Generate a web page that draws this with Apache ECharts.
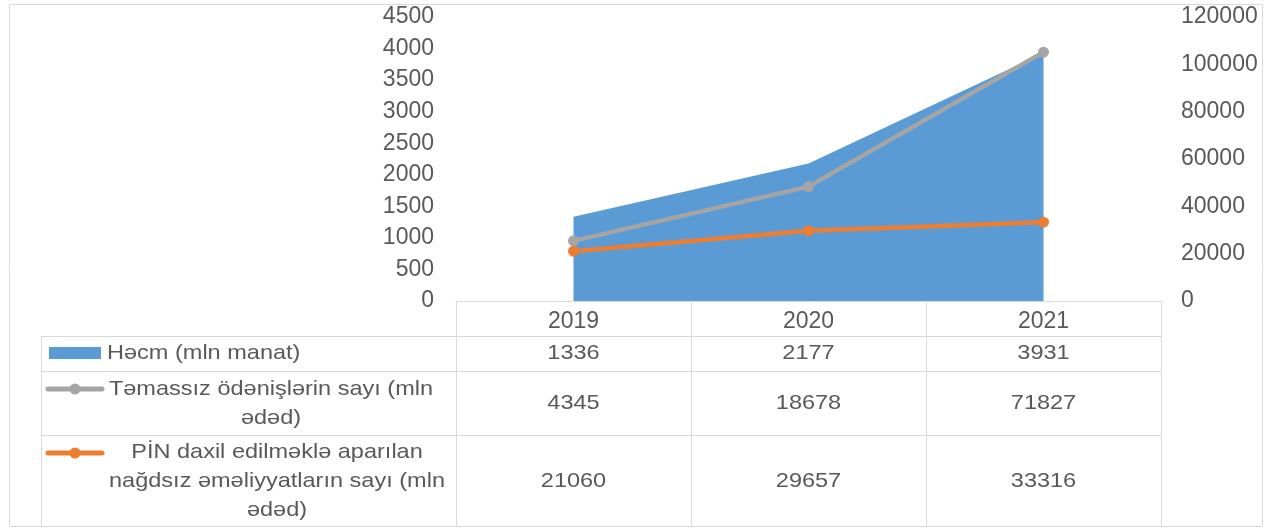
<!DOCTYPE html>
<html>
<head>
<meta charset="utf-8">
<script src="https://cdn.jsdelivr.net/npm/echarts@6/dist/echarts.min.js"></script>
<style>
  html, body { margin: 0; padding: 0; background: #fff; }
  #chart { width: 1269px; height: 528px; }
</style>
</head>
<body>
<div id="chart"></div>
<script>
// data
var years = ["2019", "2020", "2021"];
var volume = [1336, 2177, 3931];          // Həcm (mln manat)
var contactless = [4345, 18678, 71827];   // Təmassız ödənişlərin sayı
var pinOps = [21060, 29657, 33316];       // PİN daxil edilməklə ...
var rowNames = [
  "Həcm (mln manat)",
  "Təmassız ödənişlərin sayı (mln\nədəd)",
  "PİN daxil edilməklə aparılan\nnağdsız əməliyyatların sayı (mln\nədəd)"
];

var txt = "#595959";
var line = "#d9d9d9";
var font = "Liberation Sans, Arial, sans-serif";
var plain = function (v) { return String(v); };

var myChart = echarts.init(document.getElementById("chart"));

myChart.setOption({
  animation: false,
  textStyle: { fontFamily: font },
  grid: { left: 456, right: 108, top: 17, height: 284 },
  xAxis: {
    type: "category",
    data: years,
    boundaryGap: true,
    axisLine: { lineStyle: { color: line, width: 1 } },
    axisTick: { show: true, interval: 0, length: 225, lineStyle: { color: line } },
    axisLabel: { color: txt, fontSize: 23, margin: 9 }
  },
  yAxis: [
    {
      type: "value", min: 0, max: 4500, interval: 500,
      axisLine: { show: false }, axisTick: { show: false }, splitLine: { show: false },
      axisLabel: { color: txt, fontSize: 23, margin: 22, padding: [4, 0, 0, 0], formatter: plain }
    },
    {
      type: "value", min: 0, max: 120000, interval: 20000,
      axisLine: { show: false }, axisTick: { show: false }, splitLine: { show: false },
      axisLabel: { color: txt, fontSize: 23, margin: 20, padding: [4, 0, 0, 0], formatter: plain }
    }
  ],
  series: [
    {
      name: rowNames[0], type: "line", data: volume, yAxisIndex: 0,
      showSymbol: false, lineStyle: { width: 0 },
      areaStyle: { color: "#5b9bd5", opacity: 1 }, itemStyle: { color: "#5b9bd5" }
    },
    {
      name: rowNames[2], type: "line", data: pinOps, yAxisIndex: 1, stack: "say",
      symbol: "circle", symbolSize: 11, z: 4,
      lineStyle: { color: "#ed7d31", width: 4.5 }, itemStyle: { color: "#ed7d31" }
    },
    {
      name: rowNames[1], type: "line", data: contactless, yAxisIndex: 1, stack: "say",
      symbol: "circle", symbolSize: 11, z: 3,
      lineStyle: { color: "#a5a5a5", width: 4.5 }, itemStyle: { color: "#a5a5a5" }
    }
  ]
});

// data table under the axis
var rowTop = [336, 371, 435];
var rowMid = [353, 403.5, 481];
var tableRight = 1161, tableLeft = 41, tableBottom = 526;
var g = [];

g.push({ type: "rect", shape: { x: 9.5, y: 4.5, width: 1253, height: 522 },
  style: { fill: "none", stroke: line, lineWidth: 1 } });
rowTop.forEach(function (y) {
  g.push({ type: "line", shape: { x1: tableLeft, y1: y + 0.5, x2: tableRight, y2: y + 0.5 },
    style: { stroke: line, lineWidth: 1 } });
});
g.push({ type: "line", shape: { x1: tableLeft + 0.5, y1: 336, x2: tableLeft + 0.5, y2: tableBottom },
  style: { stroke: line, lineWidth: 1 } });

// legend keys
g.push({ type: "rect", shape: { x: 49, y: 347, width: 52, height: 12 }, style: { fill: "#5b9bd5" } });
[["#a5a5a5", 389], ["#ed7d31", 453]].forEach(function (k) {
  g.push({ type: "line", shape: { x1: 48, y1: k[1], x2: 102, y2: k[1] },
    style: { stroke: k[0], lineWidth: 5, lineCap: "round" } });
  g.push({ type: "circle", shape: { cx: 75, cy: k[1], r: 5.5 }, style: { fill: k[0] } });
});

// row names (source text is a little wider than Arial, hence scaleX)
var nameX = [107, 271, 277];
rowNames.forEach(function (n, i) {
  g.push({ type: "text", x: nameX[i], y: rowMid[i], scaleX: 1.12, style: {
    text: n, fill: txt, font: "21px " + font, lineHeight: 29,
    align: i === 0 ? "left" : "center", verticalAlign: "middle" } });
});

// values
var rows = [volume, contactless, pinOps];
years.forEach(function (yr, j) {
  var cx = myChart.convertToPixel({ xAxisIndex: 0 }, yr);
  rows.forEach(function (arr, i) {
    g.push({ type: "text", x: cx, y: rowMid[i], scaleX: 1.12, style: {
      text: String(arr[j]), fill: txt, font: "21px " + font,
      align: "center", verticalAlign: "middle" } });
  });
});

myChart.setOption({ graphic: g });
</script>
</body>
</html>
